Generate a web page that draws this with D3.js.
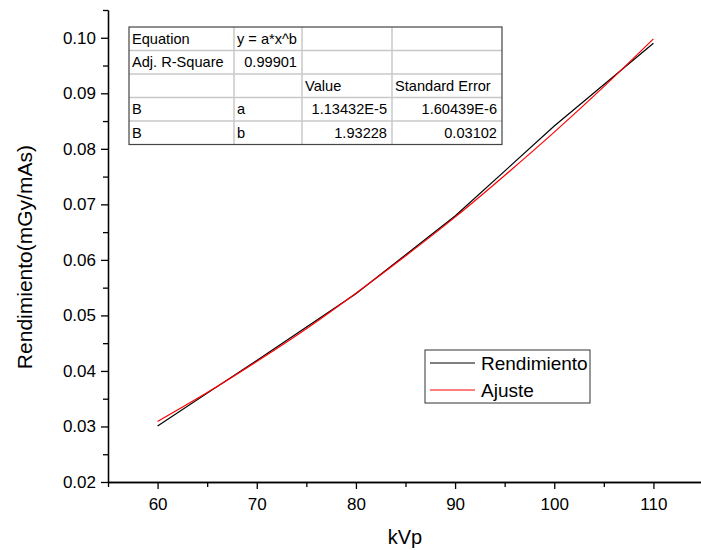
<!DOCTYPE html>
<html>
<head>
    <meta charset="utf-8">
    <title>Rendimiento vs kVp</title>
    <script src="https://d3js.org/d3.v7.min.js"></script>
</head>
<style>
    body { margin: 0; background: #fff; }
    text { font-family: "Liberation Sans", Arial, sans-serif; fill: #000; }
    .axis path, .axis line { stroke: #000; stroke-width: 1.3px; }
    .line { fill: none; stroke-width: 1.2px; }
</style>
<body>
<script>

    // measured data (black) and fitted curve (red)
    var kvp = [60, 70, 80, 90, 100, 110];
    var rendimiento = [0.0301, 0.0419, 0.0539, 0.0679, 0.0841, 0.0990];

    var ajusteKvp = [60, 65, 70, 75, 80, 85, 90, 95, 100, 105, 110];
    var ajuste = [0.0309, 0.0361, 0.0417, 0.0476, 0.0540, 0.0607, 0.0677, 0.0752, 0.0830, 0.0912, 0.0998];

    var xTicks = [60, 70, 80, 90, 100, 110];
    var xMinor = [55, 65, 75, 85, 95, 105, 115];
    var yTicks = [0.02, 0.03, 0.04, 0.05, 0.06, 0.07, 0.08, 0.09, 0.10];
    var yMinor = [0.025, 0.035, 0.045, 0.055, 0.065, 0.075, 0.085, 0.095, 0.105];

    var tableRows = [
        ["Equation", "y = a*x^b", "", ""],
        ["Adj. R-Square", "0.99901", "", ""],
        ["", "", "Value", "Standard Error"],
        ["B", "a", "1.13432E-5", "1.60439E-6"],
        ["B", "b", "1.93228", "0.03102"]
    ];
    var legendNames = ["Rendimiento", "Ajuste"];
    var legendColors = ["#000000", "#ff0000"];

    var W = 701, H = 550;
    var marginLeft = 108, plotBottom = 482, plotTop = 10;

    var x = d3.scaleLinear().domain([55, 115]).range([marginLeft, marginLeft + 595]);
    var y = d3.scaleLinear().domain([0.02, 0.105]).range([plotBottom, plotTop]);

    var svg = d3.select("body").append("svg")
        .attr("width", W)
        .attr("height", H);

    // curves
    var line = d3.line()
        .x(function(d) { return x(d[0]); })
        .y(function(d) { return y(d[1]); });

    svg.append("path")
        .datum(kvp.map(function(k, i) { return [k, rendimiento[i]]; }))
        .attr("class", "line")
        .attr("stroke", legendColors[0])
        .attr("d", line);

    svg.append("path")
        .datum(ajusteKvp.map(function(k, i) { return [k, ajuste[i]]; }))
        .attr("class", "line")
        .attr("stroke", legendColors[1])
        .attr("d", line.curve(d3.curveMonotoneX));

    // x axis
    svg.append("g")
        .attr("class", "axis")
        .attr("transform", "translate(0," + plotBottom + ")")
        .call(d3.axisBottom(x).tickValues(xMinor).tickSize(5).tickSizeOuter(0).tickFormat(""));
    svg.append("g")
        .attr("class", "axis")
        .attr("transform", "translate(0," + plotBottom + ")")
        .call(d3.axisBottom(x).tickValues(xTicks).tickSize(7).tickSizeOuter(0).tickPadding(9))
        .selectAll("text")
        .style("font-size", "17px");

    // y axis
    svg.append("g")
        .attr("class", "axis")
        .attr("transform", "translate(" + marginLeft + ",0)")
        .call(d3.axisLeft(y).tickValues(yMinor).tickSize(5).tickSizeOuter(0).tickFormat(""));
    svg.append("g")
        .attr("class", "axis")
        .attr("transform", "translate(" + marginLeft + ",0)")
        .call(d3.axisLeft(y).tickValues(yTicks).tickSize(7).tickSizeOuter(0).tickPadding(5)
            .tickFormat(d3.format(".2f")))
        .selectAll("text")
        .style("font-size", "17px");

    // axis titles
    svg.append("text")
        .attr("x", 405).attr("y", 544)
        .attr("text-anchor", "middle")
        .style("font-size", "20px")
        .text("kVp");

    svg.append("text")
        .attr("transform", "translate(32," + y(0.0605) + ") rotate(-90)")
        .attr("text-anchor", "middle")
        .style("font-size", "21px")
        .text("Rendimiento(mGy/mAs)");

    // fit table
    var colX = [129, 234, 302, 392, 502];
    var rowY = [27, 50.5, 74, 97.5, 121, 144.5];
    var table = svg.append("g");

    table.append("rect")
        .attr("x", colX[0]).attr("y", rowY[0])
        .attr("width", colX[4] - colX[0]).attr("height", rowY[5] - rowY[0])
        .attr("fill", "#fff");

    rowY.slice(1, 5).forEach(function(ry) {
        table.append("line")
            .attr("x1", colX[0]).attr("x2", colX[4])
            .attr("y1", ry).attr("y2", ry)
            .attr("stroke", "#c8c8c8").attr("stroke-width", 1.5);
    });
    colX.slice(1, 4).forEach(function(cx) {
        table.append("line")
            .attr("x1", cx).attr("x2", cx)
            .attr("y1", rowY[0]).attr("y2", rowY[5])
            .attr("stroke", "#c8c8c8").attr("stroke-width", 1.5);
    });
    table.append("rect")
        .attr("x", colX[0]).attr("y", rowY[0])
        .attr("width", colX[4] - colX[0]).attr("height", rowY[5] - rowY[0])
        .attr("fill", "none")
        .attr("stroke", "#444").attr("stroke-width", 1.2);

    tableRows.forEach(function(row, r) {
        row.forEach(function(cell, c) {
            // numbers right aligned, words left aligned
            var isNum = /^[0-9]/.test(cell);
            table.append("text")
                .attr("x", isNum ? colX[c + 1] - 5 : colX[c] + 3)
                .attr("y", (rowY[r] + rowY[r + 1]) / 2 + 5)
                .attr("text-anchor", isNum ? "end" : "start")
                .style("font-size", "14.6px")
                .text(cell);
        });
    });

    // legend
    var legend = svg.append("g");
    legend.append("rect")
        .attr("x", 425).attr("y", 350)
        .attr("width", 165).attr("height", 53)
        .attr("fill", "#fff")
        .attr("stroke", "#333").attr("stroke-width", 1);

    legendNames.forEach(function(name, i) {
        var ly = 363 + i * 27;
        legend.append("line")
            .attr("x1", 430).attr("x2", 475)
            .attr("y1", ly).attr("y2", ly)
            .attr("stroke", legendColors[i]).attr("stroke-width", 1.2);
        legend.append("text")
            .attr("x", 481).attr("y", ly + 7)
            .style("font-size", "19px")
            .text(name);
    });

</script>
</body>
</html>
